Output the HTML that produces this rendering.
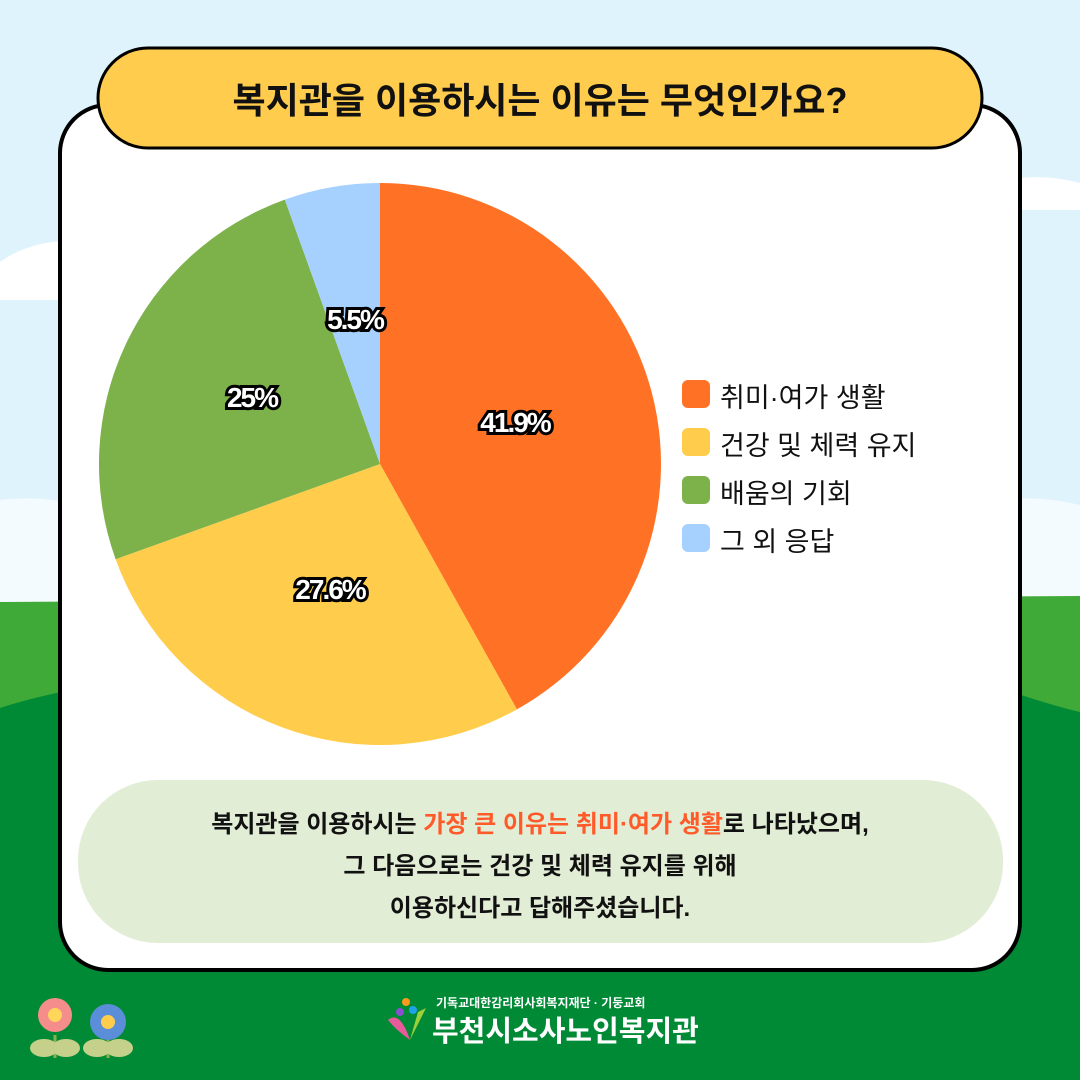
<!DOCTYPE html>
<html><head><meta charset="utf-8"><style>
body{margin:0;width:1080px;height:1080px;overflow:hidden;font-family:"Liberation Sans","Noto Sans CJK KR",sans-serif;}
.t{position:absolute;white-space:nowrap;font-weight:bold;}
</style></head><body>
<svg width="1080" height="1080" style="position:absolute;left:0;top:0">
<rect width="1080" height="1080" fill="#dff3fd"/>
<path d="M0 500 Q40 495 80 505 L1000 500 Q1040 495 1080 505 L1080 700 L0 700Z" fill="#f4fbfe"/>
<path d="M0 262 Q30 240 80 240 L80 300 L0 300Z" fill="#fff"/>
<path d="M1020 178 Q1050 175 1080 183 L1080 210 L1020 210Z" fill="#fff"/>
<path d="M0 602 L1080 596 L1080 1080 L0 1080Z" fill="#3faa38"/>
<path d="M0 708 Q30 698 80 688 L1000 688 Q1050 705 1080 712 L1080 1080 L0 1080Z" fill="#008a35"/>
<rect x="60" y="105" width="960" height="865" rx="48" fill="#fff" stroke="#000" stroke-width="4"/>
<rect x="98" y="48" width="884" height="100" rx="50" fill="#ffcc4d" stroke="#000" stroke-width="3"/>
<path d="M380 464 L380 183 A281 281 0 0 1 516.9 709.4Z" fill="#ff7225"/>
<path d="M380 464 L516.9 709.4 A281 281 0 0 1 115.6 559.2Z" fill="#ffcd4b"/>
<path d="M380 464 L115.6 559.2 A281 281 0 0 1 284.8 199.6Z" fill="#7db14a"/>
<path d="M380 464 L284.8 199.6 A281 281 0 0 1 380 183Z" fill="#a6d1ff"/>
<g font-family="Liberation Sans,sans-serif" font-weight="bold" font-size="28" text-anchor="middle" stroke="#000" stroke-width="6" paint-order="stroke" fill="#fff" letter-spacing="-2">
<text x="355" y="329">5.5%</text><text x="252" y="407">25%</text><text x="515" y="432">41.9%</text><text x="330" y="599">27.6%</text></g>
<rect x="682" y="380" width="28" height="28" rx="6" fill="#ff7225"/>
<rect x="682" y="428" width="28" height="28" rx="6" fill="#ffcd4b"/>
<rect x="682" y="476" width="28" height="28" rx="6" fill="#7db14a"/>
<rect x="682" y="524" width="28" height="28" rx="6" fill="#a6d1ff"/>
<rect x="78" y="780" width="925" height="163" rx="80" fill="#e2edd6"/>
<g><line x1="55" y1="1035" x2="55" y2="1058" stroke="#8bb050" stroke-width="3"/><ellipse cx="44" cy="1048" rx="14" ry="9" fill="#c5d08a"/><ellipse cx="66" cy="1048" rx="14" ry="9" fill="#c5d08a"/><circle cx="55" cy="1015" r="17" fill="#f58d8d"/><circle cx="55" cy="1015" r="7" fill="#ffd55a"/>
<line x1="108" y1="1035" x2="108" y2="1058" stroke="#8bb050" stroke-width="3"/><ellipse cx="97" cy="1048" rx="14" ry="9" fill="#c5d08a"/><ellipse cx="119" cy="1048" rx="14" ry="9" fill="#c5d08a"/><circle cx="108" cy="1022" r="18" fill="#5b8ed8"/><circle cx="108" cy="1022" r="7" fill="#ffcd4b"/></g>
<path d="M388 1020 Q400 1010 410 1040 Q396 1030 388 1020Z" fill="#e85a9a"/><path d="M410 1040 L418 1012 L426 1008Z" fill="#9bd03a"/>
<circle cx="406" cy="1002" r="4" fill="#ff9a1e"/><circle cx="400" cy="1012" r="4" fill="#8a4ed0"/><circle cx="413" cy="1010" r="4" fill="#1ea3e8"/>
</svg>
<div class="t" style="left:0;width:1080px;top:72px;text-align:center;font-size:36px;color:#111;">복지관을 이용하시는 이유는 무엇인가요?</div>
<div class="t" style="left:720px;top:374px;font-size:27px;color:#111;font-weight:normal;line-height:48px;">취미·여가 생활<br>건강 및 체력 유지<br>배움의 기회<br>그 외 응답</div>
<div class="t" style="left:0;width:1080px;top:804px;text-align:center;font-size:24px;line-height:42px;color:#111;">복지관을 이용하시는 <span style="color:#ff5a2a">가장 큰 이유는 취미·여가 생활</span>로 나타났으며,<br>그 다음으로는 건강 및 체력 유지를 위해<br>이용하신다고 답해주셨습니다.</div>
<div class="t" style="left:436px;top:994px;font-size:12px;color:#fff;">기독교대한감리회사회복지재단 · 기둥교회</div>
<div class="t" style="left:432px;top:1008px;font-size:29px;color:#fff;">부천시소사노인복지관</div>
</body></html>
